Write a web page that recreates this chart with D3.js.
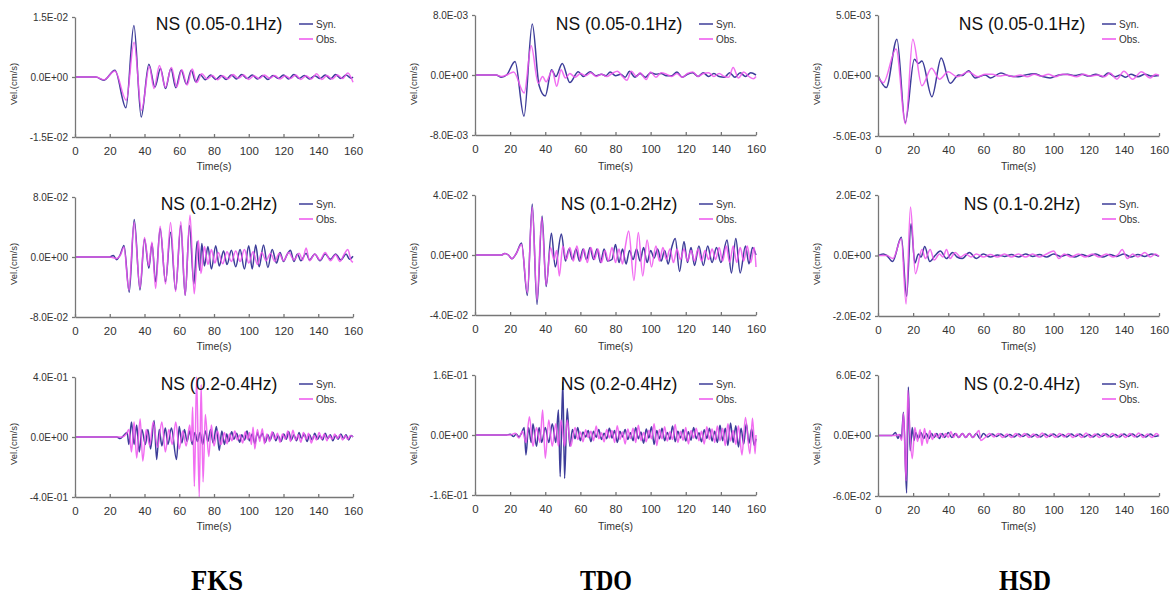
<!DOCTYPE html>
<html>
<head>
<meta charset="utf-8">
<script src="https://cdn.jsdelivr.net/npm/d3@7"></script>
<style>
  html, body { margin: 0; padding: 0; background: #fff; }
  svg { display: block; }
  .axis .domain, .axis line { stroke: #777; stroke-width: 1.3; }
  .axis text { fill: #333; font-family: "Liberation Sans", Arial, sans-serif; }
</style>
</head>
<body>
<svg id="chart" width="1174" height="595"></svg>
<script>
// ---------------- DATA ----------------
const stations = ["FKS", "TDO", "HSD"];
const bands = ["NS (0.05-0.1Hz)", "NS (0.1-0.2Hz)", "NS (0.2-0.4Hz)"];
const seriesNames = ["Syn.", "Obs."];
const xTicks = [0, 20, 40, 60, 80, 100, 120, 140, 160];
const xLabel = "Time(s)";
const yLabel = "Vel.(cm/s)";

// axis max per station (row) and band (column), in the panel's value unit
const yMax = [[15, 8, 4], [8, 4, 16], [5, 2, 6]];
// value unit of each panel's arrays (cm/s)
const yUnit = [["1E-03", "1E-02", "1E-01"], ["1E-03", "1E-02", "1E-02"], ["1E-03", "1E-02", "1E-02"]];
const yTickLabels = [
  [["1.5E-02", "0.0E+00", "-1.5E-02"], ["8.0E-02", "0.0E+00", "-8.0E-02"], ["4.0E-01", "0.0E+00", "-4.0E-01"]],
  [["8.0E-03", "0.0E+00", "-8.0E-03"], ["4.0E-02", "0.0E+00", "-4.0E-02"], ["1.6E-01", "0.0E+00", "-1.6E-01"]],
  [["5.0E-03", "0.0E+00", "-5.0E-03"], ["2.0E-02", "0.0E+00", "-2.0E-02"], ["6.0E-02", "0.0E+00", "-6.0E-02"]]
];

// Waveform extrema: [time s, velocity in panel unit]
// FKS 0.05-0.1Hz (x1E-03 cm/s)
const fks1Syn = [[0,0],[12,0],[16.5,-0.8],[23,1.7],[29.3,-7.7],[33.9,12.9],[38.1,-10],[42.5,3.2],[46,-2.5],[49.2,2.1],[52.1,-2.9],[55.2,2.1],[58,-2.7],[61.1,1.7],[64.2,-1.8],[66.9,1.7],[69.5,-1.2],[72,0.6],[75,-0.7],[78,0.5],[81,-0.6],[84,0.4],[87,-0.6],[90,0.5],[93,-0.5],[96,0.6],[99,-0.4],[102,0.5],[105,-0.5],[108,0.4],[111,-0.6],[114,0.4],[117,-0.4],[120,0.5],[123,-0.5],[126,0.6],[129,-0.4],[132,0.4],[135,-0.5],[138,0.3],[141,-0.4],[144,0.5],[147,-0.5],[150,0.6],[153,-0.4],[156,0.5],[159,-0.3],[160,0]];
const fks1Obs = [[0,0],[12,0],[16.5,-0.7],[23,1.5],[29.5,-5.8],[34,8.7],[38.3,-8.3],[42.8,2.6],[45.5,-2.9],[48.6,2.9],[52,-2.6],[55.5,2.4],[58.5,-2.5],[61.5,1.8],[64.5,-2.0],[67.5,2.0],[70,-1.4],[73,0.8],[76,-0.5],[79,0.4],[82,-0.7],[85,0.3],[88,-0.5],[91,0.6],[94,-0.3],[97,0.5],[100,-0.6],[103,0.3],[106,-0.4],[109,0.5],[112,-0.3],[115,0.4],[118,-0.5],[121,0.3],[124,-0.4],[127,0.5],[130,-0.6],[133,0.3],[136,-0.5],[139,0.8],[142,-0.6],[145,0.4],[148,-0.5],[151,0.5],[154,-0.4],[157,1.0],[160,-1.3]];
// FKS 0.1-0.2Hz (x1E-02 cm/s)
const fks2Syn = [[0,0],[20,0],[22,0.2],[24,-0.35],[26,0.3],[28.2,1.55],[31.2,-4.7],[34.1,5.0],[37.4,-4.4],[40,2.4],[42.5,-1.5],[44.3,1.8],[46.4,-3.3],[49,3.8],[52.1,-3.3],[55,3.3],[57.9,-4.4],[60.9,4.2],[63.4,-5.1],[65.9,4.2],[68.4,-3.6],[70.3,2.1],[71.8,-1.8],[73,1.8],[74.5,-1.2],[76.5,1.4],[78.5,-1.6],[81,1.5],[83,-1.2],[85.5,0.8],[87.5,-1.0],[90,0.9],[92.5,-1.3],[95,1.0],[97.5,-1.6],[100,1.5],[102,-1.6],[104,1.6],[106,-1.3],[108.5,1.6],[111,-1.4],[113.5,1.0],[116,-0.8],[118,0.6],[120,-0.6],[122,0.3],[124,0.9],[126,-0.6],[128,0.4],[130,-0.5],[133,0.5],[135,-0.4],[138,0.4],[141,-0.5],[144,0.4],[147,-0.3],[150,0.4],[153,-0.4],[156,0.4],[158,-0.3],[160,0.1]];
const fks2Obs = [[0,0],[20,0],[24,-0.2],[26,0.2],[28.2,1.3],[31,-4.4],[34,4.6],[37.4,-4.1],[40,2.6],[42.5,-1.2],[44.3,2.0],[46.4,-4.2],[49,4.1],[52.1,-3.6],[55,4.6],[57.9,-4.6],[60.9,4.7],[63.4,-5.1],[66.2,5.6],[68.6,-4.9],[71,2.2],[72.5,-2.2],[74.5,1.4],[76.5,-1.0],[78.5,1.0],[80.5,-0.8],[82.5,0.6],[85,-0.9],[87.5,0.7],[90,-0.6],[92.5,0.8],[95,-0.6],[97.5,1.0],[100,-0.8],[102.5,0.7],[105,-1.0],[107.5,0.6],[110,-0.5],[112.5,0.5],[115,-0.6],[117.5,0.5],[120,-0.5],[123,0.6],[126,-0.4],[129,0.5],[131,-0.4],[133,1.2],[135,-0.5],[138,0.4],[141,-0.4],[144,0.6],[147,-0.5],[150,0.3],[152.5,-0.6],[155,0.4],[157,1.0],[159,-0.5],[160,-0.7]];
// FKS 0.2-0.4Hz (x1E-01 cm/s)
const fks3Syn = [[0,0],[24,0],[26,-0.1],[28,0.1],[30,0.3],[31,-0.5],[32.5,1.0],[34,-0.5],[35.5,0.8],[37,-1.0],[38.5,0.5],[40.5,-0.5],[42,0.5],[43.5,-0.8],[45.5,1.1],[47,-1.5],[48.5,0.5],[50,-0.6],[52,0.6],[53.5,-0.5],[55.5,0.6],[58.4,-1.5],[60,0.7],[61.5,-0.4],[63,0.5],[64.5,-0.3],[66,0.4],[67.5,-0.5],[69,0.3],[70.5,-0.3],[72,0.3],[73.5,-0.5],[75,0.4],[76.5,-0.3],[78,0.5],[79.5,-0.4],[81.4,0.7],[83,-0.9],[84.5,0.4],[86,-0.5],[87.3,0.2],[88.5,-0.3],[90.2,0.35],[91.5,-0.15],[93,0.25],[94.8,-0.35],[96,0.15],[97.6,-0.2],[99,0.4],[100.4,-0.25],[102,0.2],[103.5,-0.45],[105,0.3],[106.2,-0.1],[107.8,0.25],[109.5,-0.35],[111,0.15],[112.3,-0.2],[114,0.3],[115.6,-0.25],[117,0.1],[118.5,-0.3],[120.2,0.2],[121.6,-0.15],[123,0.35],[124.5,-0.2],[126,0.15],[127.5,-0.25],[129,0.3],[130.3,-0.1],[132,0.2],[133.6,-0.3],[135,0.15],[136.5,-0.2],[138,0.25],[139.6,-0.15],[141,0.1],[142.5,-0.2],[144,0.25],[145.5,-0.1],[147,0.15],[148.4,-0.25],[150,0.1],[151.5,-0.15],[153,0.2],[154.6,-0.1],[156,0.15],[157.5,-0.2],[159,0.1],[160,0]];
const fks3Obs = [[0,0],[27,0],[29.5,0.2],[31,0.5],[32.5,-1.0],[34,1.0],[35.5,-1.4],[37.5,1.2],[39,-1.6],[41,0.5],[43,-0.6],[45,1.0],[47.5,-0.7],[50,1.0],[52,-1.0],[54,0.5],[56,-0.5],[58,1.0],[60,-0.8],[62,0.4],[64,-0.6],[66,0.8],[67,-0.3],[67.7,2.0],[68.7,-3.3],[70,4.0],[71.5,-4.0],[72.6,3.5],[73.7,-3.0],[75,1.5],[77,-1.3],[78.5,0.8],[80,-0.6],[82,0.4],[84,-0.5],[86,0.3],[87.5,-0.45],[89,0.2],[90.3,-0.25],[92,0.4],[93.4,-0.2],[95,0.15],[96.5,-0.4],[98,0.35],[99.4,-0.15],[100.5,0.3],[101.5,-0.5],[102.5,0.65],[103.5,-0.8],[105,0.5],[106.3,-0.3],[107.8,0.55],[109,-0.45],[110.5,0.2],[112,-0.3],[113.4,0.35],[115,-0.15],[116.5,0.25],[118,-0.35],[119.4,0.2],[121,-0.15],[122.5,0.4],[124,-0.3],[125.4,0.45],[127,-0.2],[128.5,0.15],[130,-0.35],[131.5,0.3],[133,-0.15],[134.4,0.25],[136,-0.4],[137.5,0.1],[139,-0.2],[140.5,0.3],[142,-0.15],[143.5,0.2],[145,-0.25],[146.4,0.1],[148,-0.15],[149.5,0.2],[151,-0.1],[152.5,0.15],[154,-0.2],[155.5,0.1],[157,-0.15],[158.5,0.1],[160,0]];
// TDO 0.05-0.1Hz (x1E-03 cm/s)
const tdo1Syn = [[0,0],[12,0],[15,-0.3],[18,0],[22.8,1.8],[27.9,-5.5],[32.6,6.8],[36.5,-1.4],[40,-2.8],[43.6,0.7],[46,-0.2],[49.7,1.55],[54,-1.0],[58.8,0.45],[61.7,-0.2],[65.5,0.45],[69,-0.1],[72,0.1],[74.5,-0.1],[77,0.4],[80,-0.1],[83,0.1],[85.5,-0.3],[88,0.5],[91,-0.3],[94,0.2],[97,-0.3],[100,0.3],[103,0.1],[106,0.2],[109,-0.1],[112,-0.1],[115,0.4],[118,-0.3],[121,0.1],[124,0.3],[127,-0.2],[130,0.3],[133,-0.2],[136,0.2],[139,-0.2],[142,-0.3],[145,0.3],[148,-0.3],[151,0.3],[154,-0.2],[157,0.3],[160,0]];
const tdo1Obs = [[0,0],[12,0],[15,-0.2],[18,0],[22,0.4],[28,-2.4],[32,3.9],[36,-1.1],[38.5,-0.2],[40.5,-0.9],[44,0.6],[46.5,-1.5],[49,0.7],[51.5,-0.4],[54,0.2],[57,-0.3],[60,0.2],[63,-0.1],[66,0.3],[69,-0.2],[72,0.1],[75,-0.2],[78,0.2],[81,0.5],[84,-0.2],[86.5,-0.7],[89,0.5],[92,-0.2],[94,0.3],[97.5,-0.6],[100,0.4],[103,-0.3],[106,0.3],[109,0.1],[112,-0.2],[115,0.2],[118,-0.3],[121,0.2],[124,0.4],[127,-0.2],[130,0.2],[133,0.3],[136,-0.2],[139,0.2],[142,-0.2],[144.5,-0.3],[147,1.0],[150,-0.4],[153,0.4],[156,-0.2],[158.5,-0.5],[160,-0.2]];
// TDO 0.1-0.2Hz (x1E-02 cm/s)
const tdo2Syn = [[0,0],[15,0],[17,0.1],[19,0],[21,-0.25],[23.5,0.1],[26.5,0.8],[29.8,-2.7],[32.6,3.4],[35.3,-3.3],[38.2,2.6],[40.5,-2.1],[43.5,1.45],[45.7,-0.8],[49.2,1.4],[51.5,-0.4],[53.5,0.4],[55.5,-0.3],[57.5,0.4],[59.5,-0.4],[61.5,0.4],[63.5,-0.3],[65.5,0.5],[67.5,-0.3],[69.5,0.4],[71.5,-0.5],[73.5,0.4],[75.5,-0.4],[78,-0.3],[80,0.7],[82,-0.5],[84,0.4],[86,-0.6],[88,0.3],[90,-0.3],[92,0.4],[94,-0.4],[96,0.5],[98,-0.5],[100,0.3],[102,-0.2],[104,0.4],[106,-0.4],[108,0.3],[110,-0.6],[112,0.5],[114,1.1],[116.5,-1.1],[119,0.9],[121,-0.5],[123,0.5],[125,-0.7],[127.5,0.6],[130,-0.7],[132.5,0.6],[135,-0.5],[137.5,0.5],[140,-0.5],[143.5,1.0],[146,-1.2],[148.5,1.1],[151,-1.2],[154,0.6],[156,-0.6],[158,0.5],[160,0]];
const tdo2Obs = [[0,0],[15,0],[17,0.1],[19,0],[21,-0.25],[23.5,0.1],[26.5,0.7],[29.8,-2.5],[32.6,3.2],[35.3,-3.0],[38,2.5],[40.5,-2.0],[43,0.5],[45,-0.3],[46.5,0.3],[48,-1.4],[50,0.6],[52,-0.3],[54,0.5],[56,-0.4],[58,0.6],[60,-0.4],[62,0.4],[64,-0.5],[66,0.5],[68,-0.3],[70,0.4],[72,-0.5],[74,0.3],[76,-0.4],[78,0.5],[80,-0.5],[82,0.4],[84,-0.6],[85.5,0.5],[87.5,1.6],[90.5,-1.7],[93,1.5],[95.5,-1.4],[98,1.0],[100.5,-0.8],[103,0.6],[105,-0.4],[107,0.5],[109,-0.3],[111,0.4],[113,-0.5],[115,0.4],[117,-0.3],[119,0.4],[121,-0.4],[123,0.3],[125,-0.4],[127,0.4],[129,-0.4],[131,0.3],[133,-0.3],[135,0.4],[137,-0.3],[139,0.5],[141,-0.4],[143,0.6],[145,-0.5],[147,0.6],[149,-0.5],[151,0.5],[153,-0.4],[155,0.6],[157,-0.5],[159,0.5],[160,-0.8]];
// TDO 0.2-0.4Hz (x1E-02 cm/s)
const tdo3Syn = [[0,0],[18,0],[20,0.2],[22,-0.4],[23.5,0.3],[25,-0.5],[26.5,0.5],[28,2.0],[29,-5.3],[30.5,2.0],[32,-2.0],[33,3.0],[35,-3.0],[36.5,2.0],[38,-2.0],[40,2.0],[42,-2.0],[44,3.0],[46,-2.0],[47.5,6.7],[48.5,-11.1],[50,14.2],[51,-11.6],[52.5,7.1],[54,-3.0],[55.5,1.5],[57,-1.0],[58.5,2.0],[60,-1.5],[61.5,0.8],[63,-0.5],[64.5,1.2],[66,-1.8],[67.5,1.0],[69,-0.6],[70.5,1.5],[72,-1.2],[73.5,0.5],[75,-1.0],[76.5,1.8],[78,-0.8],[79.5,1.2],[81,-2.0],[82.5,1.0],[84,-0.5],[85.5,1.5],[87,-1.2],[88.5,0.6],[90,-1.5],[91.5,2.0],[93,-1.0],[94.5,0.8],[96,-2.2],[97.5,1.6],[99,-0.8],[100.5,2.2],[102,-2.5],[103.5,1.2],[105,-1.0],[106.5,1.8],[108,-1.5],[109.5,0.7],[111,-1.2],[112.5,2.4],[114,-1.8],[115.5,1.0],[117,-0.8],[118.5,1.5],[120,-1.6],[121.5,0.9],[123,-1.4],[124.5,2.0],[126,-1.0],[127.5,0.6],[129,-1.8],[130.5,1.4],[132,-0.9],[133.5,1.8],[135,-1.6],[136.5,1.0],[138,-2.0],[139.5,2.6],[141,-1.5],[142.5,1.8],[144,-2.8],[145.5,3.2],[147,-2.0],[148.5,2.5],[150,-3.2],[151.5,1.8],[153,-2.4],[154.5,3.0],[156,-2.2],[157.5,1.6],[159,-2.8],[160,-1.0]];
const tdo3Obs = [[0,0],[20,0],[23,0.5],[25,-0.8],[27,1.0],[29,-2.0],[31,4.9],[33,-3.0],[35,2.0],[37,-2.0],[38.5,6.7],[40,-6.2],[42,4.0],[44,-3.0],[46,3.0],[47.5,-3.0],[49,4.0],[51,-3.0],[52.5,4.0],[54.5,-3.0],[57,2.0],[58.5,-1.2],[60,0.8],[61.5,-1.8],[63,1.4],[64.5,-0.7],[66,1.0],[67.5,-1.5],[69,2.4],[70.5,-1.0],[72,0.6],[73.5,-1.8],[75,1.5],[76.5,-0.8],[78,1.2],[79.5,-2.0],[81,2.5],[82.5,-1.2],[84,0.8],[85.5,-2.4],[87,1.6],[88.5,-0.9],[90,1.8],[91.5,-2.0],[93,2.6],[94.5,-1.5],[96,0.7],[97.5,-1.8],[99,1.3],[100.5,-1.0],[102,3.0],[103.5,-2.8],[105,1.5],[106.5,-1.0],[108,2.2],[109.5,-1.6],[111,0.9],[112.5,-1.2],[114,2.8],[115.5,-2.0],[117,1.0],[118.5,-1.4],[120,2.0],[121.5,-2.4],[123,1.2],[124.5,-0.8],[126,1.8],[127.5,-1.5],[129,1.0],[130.5,-2.4],[132,2.2],[133.5,-1.2],[135,1.6],[136.5,-2.0],[138,2.4],[139.5,-1.5],[141,1.8],[142.5,-2.8],[144,3.0],[145.5,-1.6],[147,1.2],[148.5,-2.5],[150,2.5],[152,-5.3],[154,4.7],[156.5,-5.0],[158,4.5],[159.5,-5.0],[160,0]];
// HSD 0.05-0.1Hz (x1E-03 cm/s)
const hsd1Syn = [[0,0],[4.7,-1.0],[10.8,3.0],[15.5,-3.9],[20.7,1.35],[23,1.0],[25,1.2],[30.7,-1.75],[36,1.45],[41.1,-0.65],[45.9,0.05],[48,0],[51.6,0.4],[55.4,-0.2],[61,0.05],[64,-0.2],[70,0.2],[75,-0.05],[80,-0.1],[84,0.05],[89,0.15],[93,-0.05],[98,-0.2],[103,0.05],[108,0.1],[112,0],[116,0.1],[120,-0.05],[124,0.1],[128,-0.1],[131,0.2],[135,-0.1],[138,0.05],[141,-0.15],[144,0.1],[148,-0.1],[152,0.1],[156,-0.05],[160,0]];
const hsd1Obs = [[0,-0.1],[3,-0.6],[10.3,2.2],[15.7,-4.0],[19.8,3.0],[25,-0.85],[30.5,0.6],[35,-0.3],[40,0.3],[45,-0.1],[51.5,0.3],[57,-0.1],[61,0.1],[65,0.1],[69,-0.05],[73,0.05],[77,-0.1],[81,0.05],[85,-0.1],[89,0.1],[93,-0.05],[97,0.1],[101,-0.1],[105,0.1],[109,0.05],[113,-0.1],[117,0.1],[121,-0.05],[125,0.05],[129,-0.1],[132,0.2],[136,-0.3],[140,0.35],[145,-0.3],[150,0.3],[155,-0.2],[158,0.1],[160,0]];
// HSD 0.1-0.2Hz (x1E-02 cm/s)
const hsd2Syn = [[0,0],[3,0.05],[5,0],[8.3,-0.2],[13.3,0.6],[16.3,-1.35],[18.8,1.05],[21,-0.25],[23,0.05],[24.5,-0.05],[26.6,0.3],[29.5,-0.2],[32.5,0],[35.5,0.15],[39,-0.1],[42.5,0.1],[45,-0.05],[48,-0.1],[52,0.1],[56,-0.1],[60,0.05],[64,-0.05],[68,0.02],[72,-0.03],[76,0.03],[80,-0.05],[84,0.05],[88,-0.03],[92,0.03],[96,-0.05],[100,0.05],[104,-0.03],[108,0.03],[112,-0.05],[116,0.03],[120,-0.03],[124,0.05],[128,-0.05],[132,0.03],[136,-0.03],[140,0.05],[144,-0.05],[148,0.03],[152,-0.03],[156,0.05],[160,-0.03]];
const hsd2Obs = [[0,0],[5,0],[8.5,-0.1],[13.3,0.55],[16,-1.6],[18.5,1.6],[21.3,-0.6],[25,0.2],[27,-0.1],[29.7,0.2],[32,-0.15],[35,0.05],[37,-0.05],[39,0.2],[41,-0.1],[44,0.1],[47,-0.05],[50,0.05],[53,-0.05],[56,0.05],[60,-0.05],[64,0.03],[68,-0.05],[72,0.05],[76,-0.05],[80,0.05],[84,-0.05],[88,0.05],[92,-0.05],[96,0.05],[100,0.15],[103,-0.1],[106,0.05],[110,-0.05],[114,0.05],[118,-0.05],[122,0.05],[126,-0.05],[130,0.05],[134,-0.05],[137,0.05],[139,0.2],[142,-0.1],[145,0.05],[148,-0.05],[152,0.1],[155,-0.05],[158,0.05],[160,-0.03]];
// HSD 0.2-0.4Hz (x1E-02 cm/s)
const hsd3Syn = [[0,0],[8,0],[10,0.3],[11.3,-0.3],[12.5,0.1],[13.3,-0.3],[14.5,2.3],[16.3,-5.7],[17.3,4.8],[18.3,-1.5],[19.5,0.8],[20.5,-0.5],[21.5,0.3],[23,-0.3],[24.5,0.3],[26,-0.3],[27.5,0.2],[29,-0.3],[30.5,0.2],[32,-0.2],[33.5,0.2],[35,-0.3],[36.5,0.2],[38,-0.2],[40,0.3],[42,-0.2],[44,0.2],[46,-0.2],[48,0.2],[50,-0.2],[52,0.2],[54,-0.2],[56,0.2],[58,-0.3],[60,0.2],[62.5,-0.15],[65,0.15],[67.5,-0.1],[70,0.15],[72.5,-0.15],[75,0.1],[77.5,-0.15],[80,0.15],[82.5,-0.1],[85,0.15],[87.5,-0.15],[90,0.1],[92.5,-0.15],[95,0.15],[97.5,-0.1],[100,0.15],[102.5,-0.15],[105,0.1],[107.5,-0.15],[110,0.15],[112.5,-0.1],[115,0.15],[117.5,-0.15],[120,0.1],[122.5,-0.15],[125,0.15],[127.5,-0.1],[130,0.15],[132.5,-0.15],[135,0.1],[137.5,-0.15],[140,0.15],[142.5,-0.1],[145,0.15],[147.5,-0.15],[150,0.1],[152.5,-0.15],[155,0.15],[157.5,-0.1],[160,0]];
const hsd3Obs = [[0,0],[10,0],[12,0.1],[13.5,-0.5],[14.5,2.2],[16,-4.5],[17,4.5],[18.2,0.2],[19.5,-2.3],[21,0.8],[22.5,-0.6],[24,0.6],[25,-1.0],[26.5,0.7],[28,-0.8],[29.5,0.5],[31,-0.4],[32.5,0.2],[34,-0.2],[35.5,0.2],[37,-0.2],[38.5,0.2],[40,-0.2],[41.5,0.4],[43,-0.2],[44.5,0.2],[46,-0.2],[48,0.2],[50,-0.2],[52,0.2],[54,-0.2],[56,0.2],[57.5,0.5],[58.5,-0.5],[61,-0.2],[63.5,0.2],[66,-0.15],[68.5,0.2],[71,-0.2],[73.5,0.15],[76,-0.2],[78.5,0.2],[81,-0.15],[83.5,0.2],[86,-0.2],[88.5,0.15],[91,-0.2],[93.5,0.25],[96,-0.2],[98.5,0.15],[101,-0.2],[103.5,0.2],[106,-0.15],[108.5,0.2],[111,-0.2],[113.5,0.15],[116,-0.2],[118.5,0.25],[121,-0.2],[123.5,0.15],[126,-0.2],[128.5,0.2],[131,-0.15],[133.5,0.2],[136,-0.2],[138.5,0.15],[141,-0.2],[143.5,0.2],[146,-0.15],[148.5,0.25],[151,-0.2],[153.5,0.15],[156,-0.2],[158.5,0.2],[160,0]];

const synSeries = [[fks1Syn, fks2Syn, fks3Syn], [tdo1Syn, tdo2Syn, tdo3Syn], [hsd1Syn, hsd2Syn, hsd3Syn]];
const obsSeries = [[fks1Obs, fks2Obs, fks3Obs], [tdo1Obs, tdo2Obs, tdo3Obs], [hsd1Obs, hsd2Obs, hsd3Obs]];

// ---------------- LAYOUT / STYLE ----------------
const colX0 = [75, 475, 878];
const colX1 = [353, 756, 1159];
const colTop = [17, 15, 15];
const colBottom = [137, 135, 136];
const rowY = [0, 180, 360];
const stationLabelX = [217, 606, 1025];
const colors = ["#3d3d99", "#ee55ee"];
const font = "'Liberation Sans', Arial, sans-serif";

const svg = d3.select("#chart");

stations.forEach((st, c) => {
  bands.forEach((band, r) => {
    const top = rowY[r] + colTop[c];
    const bottom = rowY[r] + colBottom[c];
    const x = d3.scaleLinear().domain([0, 160]).range([colX0[c], colX1[c]]);
    const m = yMax[c][r];
    const y = d3.scaleLinear().domain([-m, m]).range([bottom, top]);
    const g = svg.append("g");

    // lines
    const line = d3.line().x(d => x(d[0])).y(d => y(d[1])).curve(d3.curveMonotoneX);
    g.append("path").datum(synSeries[c][r]).attr("d", line)
      .attr("fill", "none").attr("stroke", colors[0]).attr("stroke-width", 1.5);
    g.append("path").datum(obsSeries[c][r]).attr("d", line)
      .attr("fill", "none").attr("stroke", colors[1]).attr("stroke-width", 1.5).attr("stroke-opacity", 0.85);

    // x axis
    const gx = g.append("g").attr("class", "axis").attr("transform", `translate(0,${bottom})`)
      .call(d3.axisBottom(x).tickValues(xTicks).tickSizeInner(-3).tickSizeOuter(0).tickPadding(10));
    gx.selectAll("text").attr("font-size", 11.5).attr("font-family", font);

    // y axis
    const labs = yTickLabels[c][r];
    const gy = g.append("g").attr("class", "axis").attr("transform", `translate(${colX0[c]},0)`)
      .call(d3.axisLeft(y).tickValues([m, 0, -m])
        .tickFormat(d => d > 0 ? labs[0] : (d < 0 ? labs[2] : labs[1]))
        .tickSizeInner(3).tickSizeOuter(0).tickPadding(4));
    gy.selectAll("text").attr("font-size", 10).attr("font-family", font);

    // axis titles
    g.append("text").attr("x", (colX0[c] + colX1[c]) / 2).attr("y", rowY[r] + 170)
      .attr("text-anchor", "middle").attr("font-family", font).attr("font-size", 10.5)
      .attr("fill", "#333").text(xLabel);
    g.append("text")
      .attr("transform", `translate(${colX0[c] - 58},${rowY[r] + 84}) rotate(-90)`)
      .attr("text-anchor", "middle").attr("font-family", font).attr("font-size", 9.5)
      .attr("fill", "#333").text(yLabel);

    // band title
    g.append("text").attr("x", colX0[c] + 144).attr("y", rowY[r] + 30)
      .attr("text-anchor", "middle").attr("font-family", font).attr("font-size", 17.5)
      .attr("fill", "#111").text(band);

    // legend
    seriesNames.forEach((nm, i) => {
      const ly = rowY[r] + 24 + i * 15;
      g.append("line").attr("x1", colX0[c] + 224).attr("x2", colX0[c] + 238)
        .attr("y1", ly).attr("y2", ly).attr("stroke", colors[i]).attr("stroke-width", 1.5);
      g.append("text").attr("x", colX0[c] + 241).attr("y", ly + 3.5)
        .attr("font-family", font).attr("font-size", 10).attr("fill", "#333").text(nm);
    });
  });

  // station label
  svg.append("text").attr("x", stationLabelX[c]).attr("y", 590)
    .attr("text-anchor", "middle").attr("font-family", "'Liberation Serif', 'Times New Roman', serif")
    .attr("font-weight", "bold").attr("font-size", 29)
    .attr("textLength", 52).attr("lengthAdjust", "spacingAndGlyphs")
    .attr("fill", "#000").text(st);
});
</script>
</body>
</html>
